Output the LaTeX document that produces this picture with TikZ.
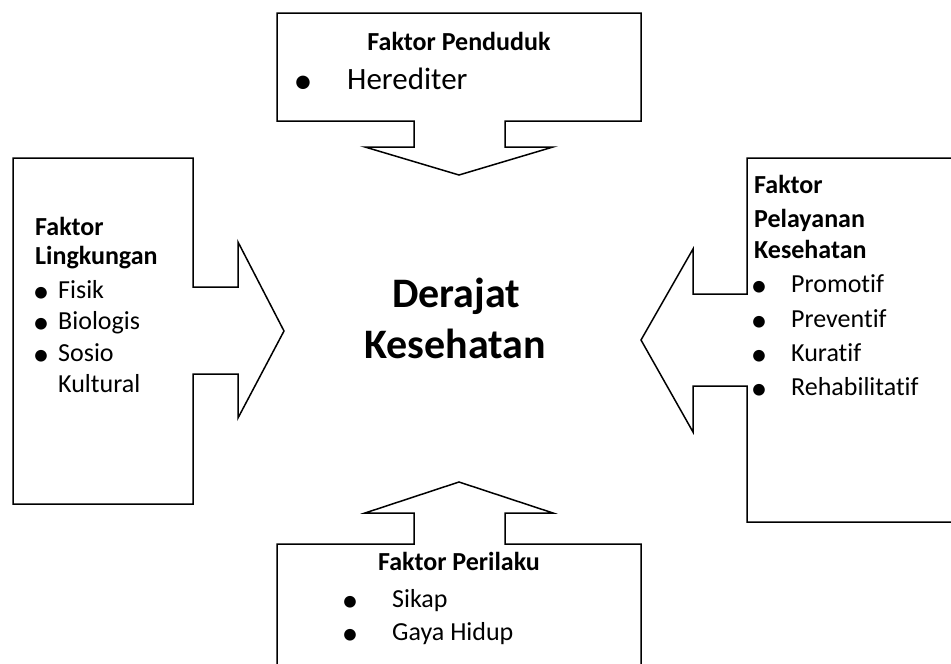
\documentclass[tikz,border=0pt]{standalone}
\usepackage{fontspec}
\setmainfont[Ligatures=NoCommon]{Carlito}
\usepackage{tikz}
\usetikzlibrary{calc}
\usetikzlibrary{positioning}
\tikzstyle{callout} = [draw=black, line width=1.5pt, line join=miter, fill=white]
\tikzstyle{head} = [draw=none, inner sep=0, anchor=base west, font=\fontsize{26}{30}\selectfont\bfseries]
\tikzstyle{item} = [draw=none, inner sep=0, anchor=base west, font=\fontsize{26}{30}\selectfont]
\tikzstyle{dot} = [draw=none, inner sep=0, anchor=base, yshift=-4pt, font=\fontsize{33}{33}\selectfont]
\newcommand{\blt}{\smash{•}}

\begin{document}
\begin{tikzpicture}[x=1pt, y=-1pt]
\useasboundingbox (0,0) rectangle (951,664);
\clip (0,0) rectangle (951,664);
% callout shapes
\draw [callout] (277,13) -- (641,13) -- (641,121) -- (505,121) -- (505,147) -- (553,147) -- (459,175) -- (365,147) -- (414,147) -- (414,121) -- (277,121) -- cycle;
\draw [callout] (13,158) -- (193,158) -- (193,287) -- (238,287) -- (238,242) -- (284,331) -- (238,418) -- (238,374) -- (193,374) -- (193,504) -- (13,504) -- cycle;
\draw [callout] (970,158) -- (747,158) -- (747,294) -- (693,294) -- (693,249) -- (641,340) -- (693,432) -- (693,386) -- (747,386) -- (747,522) -- (970,522);
\draw [callout] (277,690) -- (277,544) -- (414,544) -- (414,513) -- (365,513) -- (459,482) -- (553,513) -- (505,513) -- (505,544) -- (641,544) -- (641,690);
% center
\node [draw=none, inner sep=0, anchor=base, font=\fontsize{42}{44}\selectfont\bfseries] (derajat) at (456,307) {Derajat};
\node [draw=none, inner sep=0, anchor=base, font=\fontsize{42}{44}\selectfont\bfseries] (kesehatan) at (455,358) {Kesehatan};
% top: penduduk
\node [head, anchor=base] (penduduk) at (459,50) {Faktor Penduduk};
\node [dot, font=\fontsize{38}{38}\selectfont] (d1) at (303,89) {\blt};
\node [item, font=\fontsize{31}{34}\selectfont] (hered) at (347,89) {Herediter};
% left: lingkungan
\node [head] (ling1) at (35,235) {Faktor};
\node [head] (ling2) at (35,264) {Lingkungan};
\node [dot] (d2) at (41,298) {\blt};
\node [item] (fisik) at (58,298) {Fisik};
\node [dot] (d3) at (41,329) {\blt};
\node [item] (bio) at (58,329) {Biologis};
\node [dot] (d4) at (41,361) {\blt};
\node [item] (sosio) at (58,361) {Sosio};
\node [item] (kultur) at (58,392) {Kultural};
% right: pelayanan kesehatan
\node [head] (pel1) at (754,193) {Faktor};
\node [head] (pel2) at (754,227) {Pelayanan};
\node [head] (pel3) at (754,258) {Kesehatan};
\node [dot] (d5) at (759,292) {\blt};
\node [item] (promo) at (791,292) {Promotif};
\node [dot] (d6) at (759,327) {\blt};
\node [item] (preven) at (791,327) {Preventif};
\node [dot] (d7) at (759,361) {\blt};
\node [item] (kurat) at (791,361) {Kuratif};
\node [dot] (d8) at (759,395) {\blt};
\node [item] (rehab) at (791,395) {Rehabilitatif};
% bottom: perilaku
\node [head, anchor=base] (perilaku) at (459,570) {Faktor Perilaku};
\node [dot] (d9) at (350,607) {\blt};
\node [item] (sikap) at (392,607) {Sikap};
\node [dot] (d10) at (350,640) {\blt};
\node [item] (gaya) at (392,640) {Gaya Hidup};
\end{tikzpicture}
\end{document}
